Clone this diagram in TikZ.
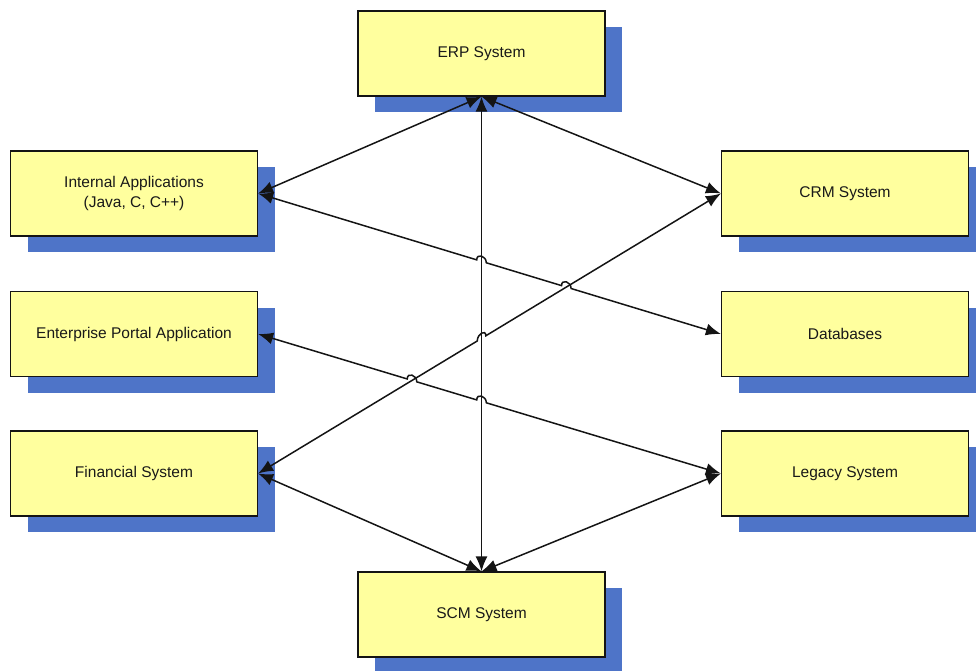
\documentclass[tikz,border=0pt]{standalone}
\usepackage{fontspec}
\setmainfont{Liberation Sans}
\usetikzlibrary{arrows.meta,shadows,calc}
\definecolor{boxfill}{RGB}{255,255,158}
\definecolor{shadowblue}{RGB}{78,116,200}
\definecolor{inkline}{RGB}{20,20,20}
\begin{document}
\begin{tikzpicture}[x=1pt,y=-1pt,
  >={Latex[length=15pt,width=12pt]},
  sysbox/.style={draw=inkline, line width=1.2pt, fill=boxfill,
    minimum width=247pt, minimum height=85pt, inner sep=0pt,
    align=center, text=black!90,
    font=\fontsize{15.5}{20}\selectfont,
    drop shadow={shadow xshift=17pt, shadow yshift=-16pt,
      fill=shadowblue, opacity=1}},
  link/.style={draw=inkline, line width=1.5pt, <->}]
\useasboundingbox (0,0) rectangle (976,671);

% systems
\node[sysbox] (erp) at (481.5,53.5) {ERP System};
\node[sysbox] (scm) at (481.5,614.5) {SCM System};
\node[sysbox] (ia)  at (134,193.5) {Internal Applications\\(Java, C, C++)};
\node[sysbox] (ep)  at (134,334) {Enterprise Portal Application};
\node[sysbox] (fs)  at (134,473.5) {Financial System};
\node[sysbox] (crm) at (845,193.5) {CRM System};
\node[sysbox] (db)  at (845,334) {Databases};
\node[sysbox] (ls)  at (845,473.5) {Legacy System};

% crossing points where a line hops over another
\coordinate (v1) at (intersection of ia.east--db.west and erp.south--scm.north);
\coordinate (c1) at (intersection of ia.east--db.west and fs.east--crm.west);
\coordinate (v2) at (intersection of ep.east--ls.west and erp.south--scm.north);
\coordinate (c2) at (intersection of ep.east--ls.west and fs.east--crm.west);
\coordinate (v3) at (intersection of fs.east--crm.west and erp.south--scm.north);

% links from the ERP system
\draw[link] (ia.east) -- (erp.south);
\draw[link] (erp.south) -- (crm.west);
\draw[link] (erp.south) -- (scm.north);

% links to the SCM system
\draw[link] (fs.east) -- (scm.north);
\draw[link] (ls.west) -- (scm.north);

% crossing links, with hops
\draw[link] (ia.east)
  -- ($(v1)!5pt!(ia.east)$) .. controls +(0,-7) and +(0,-7) .. ($(v1)!5pt!(db.west)$)
  -- ($(c1)!5pt!(ia.east)$) .. controls +(0,-7) and +(0,-7) .. ($(c1)!5pt!(db.west)$)
  -- (db.west);
\draw[link] (ep.east)
  -- ($(c2)!5pt!(ep.east)$) .. controls +(0,-7) and +(0,-7) .. ($(c2)!5pt!(ls.west)$)
  -- ($(v2)!5pt!(ep.east)$) .. controls +(0,-7) and +(0,-7) .. ($(v2)!5pt!(ls.west)$)
  -- (ls.west);
\draw[link] (fs.east)
  -- ($(v3)!5pt!(fs.east)$) .. controls +(0,-7) and +(0,-7) .. ($(v3)!5pt!(crm.west)$)
  -- (crm.west);
\end{tikzpicture}
\end{document}
